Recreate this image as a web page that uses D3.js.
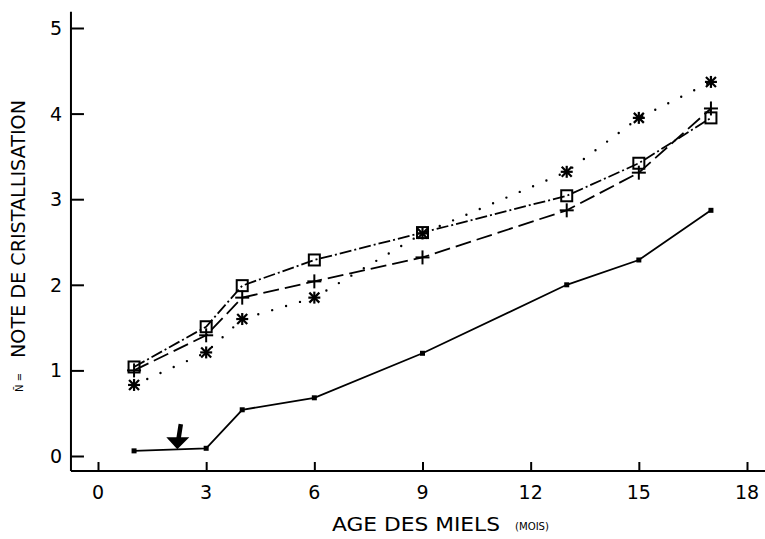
<!DOCTYPE html>
<html>
<head>
<meta charset="utf-8">
<script src="https://cdn.jsdelivr.net/npm/d3@7"></script>
<style>
  html, body { margin: 0; padding: 0; background: #fff; }
  svg { display: block; }
  text { font-family: "DejaVu Sans", "Liberation Sans", sans-serif; fill: #000; }
</style>
</head>
<body>
<svg id="chart" width="765" height="539"></svg>
<script>
// ---- data ----
const months = [1, 3, 4, 6, 9, 13, 15, 17];
const seriesSolid  = [0.06, 0.09, 0.54, 0.68, 1.20, 2.00, 2.29, 2.87];
const seriesSquare = [1.04, 1.51, 1.99, 2.29, 2.61, 3.04, 3.42, 3.95];
const seriesPlus   = [1.00, 1.41, 1.85, 2.04, 2.32, 2.87, 3.31, 4.06];
const seriesStar   = [0.83, 1.21, 1.60, 1.85, 2.60, 3.32, 3.95, 4.37];
const xTicks = [0, 3, 6, 9, 12, 15, 18];
const yTicks = [0, 1, 2, 3, 4, 5];
const xLabel = "AGE DES MIELS";
const xUnit = "(MOIS)";
const yLabel = "NOTE DE CRISTALLISATION";
const arrowAt = {month: 2.2, value: 0.08};

// ---- scales ----
const svg = d3.select("#chart");
const x = d3.scaleLinear().domain([0, 18]).range([98, 747]);
const y = d3.scaleLinear().domain([0, 5]).range([456, 28]);
const xMin = -0.75, xMax = 18.5, yMin = -0.175, yMax = 5.19;

// ---- axes ----
const g = svg.append("g");
// y axis
const yAxis = d3.axisRight(y).tickValues(yTicks).tickSize(13).tickFormat("");
const gy = g.append("g").attr("transform", `translate(${x(xMin)},0)`).call(yAxis);
gy.select(".domain").remove();
gy.selectAll(".tick line").attr("stroke", "#000").attr("stroke-width", 2);
g.append("line").attr("x1", x(xMin)).attr("x2", x(xMin))
  .attr("y1", y(yMax)).attr("y2", y(yMin)).attr("stroke", "#000").attr("stroke-width", 2);
g.selectAll(".ylab").data(yTicks).enter().append("text")
  .attr("x", 62).attr("y", d => y(d) + 7).attr("text-anchor", "end")
  .attr("font-size", 19).text(d => d);

// x axis
const xAxis = d3.axisTop(x).tickValues(xTicks).tickSize(9).tickFormat("");
const gx = g.append("g").attr("transform", `translate(0,${y(yMin)})`).call(xAxis);
gx.select(".domain").remove();
gx.selectAll(".tick line").attr("stroke", "#000").attr("stroke-width", 2);
g.append("line").attr("x1", x(xMin)).attr("x2", x(xMax))
  .attr("y1", y(yMin)).attr("y2", y(yMin)).attr("stroke", "#000").attr("stroke-width", 2);
g.selectAll(".xlab").data(xTicks).enter().append("text")
  .attr("x", d => x(d)).attr("y", 499).attr("text-anchor", "middle")
  .attr("font-size", 19).text(d => d);

// axis titles
g.append("text").attr("x", 332).attr("y", 531).attr("font-size", 19)
  .attr("textLength", 168).attr("lengthAdjust", "spacingAndGlyphs").text(xLabel);
g.append("text").attr("x", 515).attr("y", 530).attr("font-size", 10)
  .attr("textLength", 34).attr("lengthAdjust", "spacingAndGlyphs")
  .attr("font-family", "DejaVu Sans Mono, monospace").text(xUnit);

const yl = g.append("g").attr("transform", "translate(25,358) rotate(-90)");
yl.append("text").attr("x", 0).attr("y", 0).attr("font-size", 19)
  .attr("textLength", 258).attr("lengthAdjust", "spacingAndGlyphs").text(yLabel);
yl.append("text").attr("x", -34).attr("y", -2).attr("font-size", 10).text("N\u0304 =");

// ---- lines ----
const line = d3.line().x(d => x(d[0])).y(d => y(d[1]));
function pts(vals) { return months.map((m, i) => [m, vals[i]]); }

g.append("path").attr("d", line(pts(seriesSolid))).attr("fill", "none")
  .attr("stroke", "#000").attr("stroke-width", 1.8);
g.append("path").attr("d", line(pts(seriesSquare))).attr("fill", "none")
  .attr("stroke", "#000").attr("stroke-width", 1.8).attr("stroke-dasharray", "12,3,2,3");
g.append("path").attr("d", line(pts(seriesPlus))).attr("fill", "none")
  .attr("stroke", "#000").attr("stroke-width", 1.8).attr("stroke-dasharray", "16,6");
g.append("path").attr("d", line(pts(seriesStar))).attr("fill", "none")
  .attr("stroke", "#000").attr("stroke-width", 2.4).attr("stroke-linecap", "round")
  .attr("stroke-dasharray", "0,14.5");

// ---- markers ----
g.selectAll(".msolid").data(pts(seriesSolid)).enter().append("rect")
  .attr("x", d => x(d[0]) - 2.5).attr("y", d => y(d[1]) - 2.5)
  .attr("width", 5).attr("height", 5).attr("fill", "#000");

g.selectAll(".msq").data(pts(seriesSquare)).enter().append("rect")
  .attr("x", d => x(d[0]) - 5.5).attr("y", d => y(d[1]) - 5.5)
  .attr("width", 11).attr("height", 11).attr("fill", "none")
  .attr("stroke", "#000").attr("stroke-width", 2);

const plus = g.selectAll(".mplus").data(pts(seriesPlus)).enter().append("g")
  .attr("transform", d => `translate(${x(d[0])},${y(d[1])})`);
plus.append("line").attr("x1", -7).attr("x2", 7).attr("stroke", "#000").attr("stroke-width", 2);
plus.append("line").attr("y1", -7).attr("y2", 7).attr("stroke", "#000").attr("stroke-width", 2);

const star = g.selectAll(".mstar").data(pts(seriesStar)).enter().append("g")
  .attr("transform", d => `translate(${x(d[0])},${y(d[1])})`);
[[-6, 0, 6, 0], [0, -6, 0, 6], [-5, -5, 5, 5], [-5, 5, 5, -5]].forEach(c => {
  star.append("line").attr("x1", c[0]).attr("y1", c[1]).attr("x2", c[2]).attr("y2", c[3])
    .attr("stroke", "#000").attr("stroke-width", 2.2);
});

// ---- arrow annotation ----
const ax = x(arrowAt.month), ay = y(arrowAt.value);
g.append("line").attr("x1", ax + 3.5).attr("y1", ay - 25).attr("x2", ax + 1).attr("y2", ay - 9)
  .attr("stroke", "#000").attr("stroke-width", 4.5);
g.append("path").attr("d", `M${ax - 11},${ay - 12} L${ax + 12},${ay - 12} L${ax},${ay} Z`)
  .attr("fill", "#000");
</script>
</body>
</html>
